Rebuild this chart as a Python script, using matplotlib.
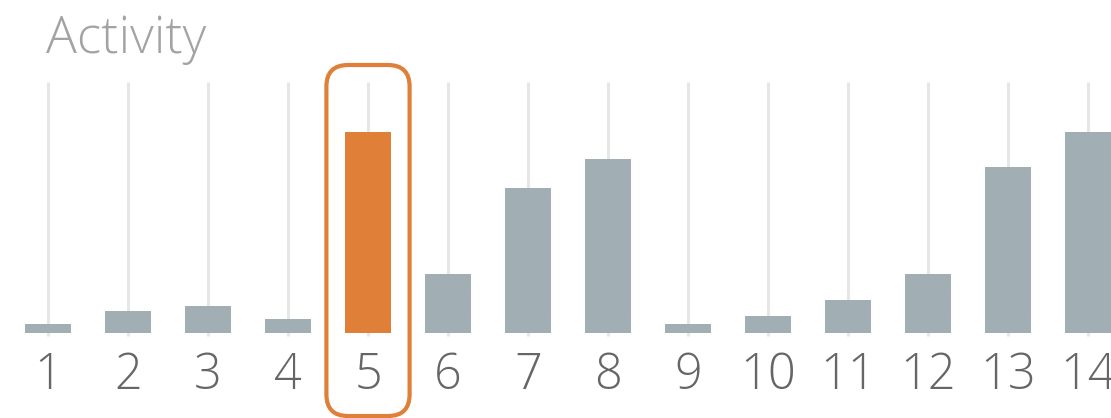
import matplotlib
matplotlib.use('Agg')
import matplotlib.pyplot as plt
from matplotlib.patches import FancyBboxPatch

# >>> data >>>
days = list(range(1, 15))
activity = [4.5, 11, 13.5, 7, 100.5, 29.5, 72.5, 87, 4.5, 8.5, 16.5, 29.5, 83, 100.5]
highlight_day = 5
grid_top = 125.5

bar_color = '#a1afb4'
hi_color = '#e07f38'
grid_color = '#e6e6e6'

plt.rcParams['font.family'] = ['Open Sans', 'DejaVu Sans']

W, H = 1111, 418
fig = plt.figure(figsize=(W / 100, H / 100), dpi=100)
ax = fig.add_axes([0, 85 / H, 1, 333 / H])
ax.set_xlim(0.4, 14.2875)
ax.set_ylim(0, 166.5)

# vertical guide lines behind bars
ax.vlines(days, -1.5, grid_top, color=grid_color, linewidth=2.2, zorder=1, clip_on=False)

colors = [hi_color if d == highlight_day else bar_color for d in days]
ax.bar(days, activity, width=0.575, color=colors, zorder=2)

# rounded highlight box around the selected day
box = FancyBboxPatch((highlight_day - 0.52, -41.5), 1.04, 134 + 41.5,
                     boxstyle='round,pad=0,rounding_size=0.27', mutation_aspect=40,
                     facecolor='none', edgecolor=hi_color, linewidth=3,
                     clip_on=False, zorder=3)
ax.add_patch(box)

ax.set_xticks(days)
ax.set_xticklabels([str(d) for d in days], fontsize=35, color='#666666', fontweight='light')
ax.tick_params(axis='x', length=0, pad=13)
ax.set_yticks([])
for s in ax.spines.values():
    s.set_visible(False)

fig.text(46 / W, 1 - 53 / H, 'Activity', fontsize=37, color='#a3a3a3',
         fontweight='light', va='baseline', ha='left')

fig.savefig('out.png', dpi=100)
